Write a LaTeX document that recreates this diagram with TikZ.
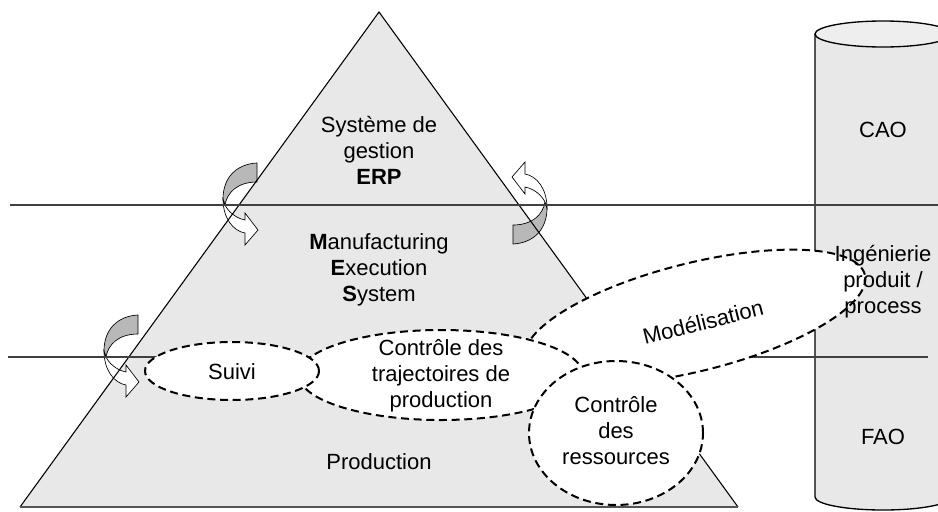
\documentclass[tikz,border=0pt]{standalone}
\usepackage{fontspec}
\setmainfont{Liberation Sans}
\usetikzlibrary{shapes.geometric}
\definecolor{trifill}{HTML}{E8E8E8}
\definecolor{cylfill}{HTML}{E8E8E8}
\definecolor{cyltop}{HTML}{EEEEEE}
\definecolor{arrgray}{HTML}{B8B8B8}
\definecolor{linecol}{HTML}{404040}
\definecolor{basecol}{HTML}{555555}
\begin{document}
\begin{tikzpicture}[x=0.75pt,y=-0.75pt,
  lbl/.style={font=\fontsize{16.5pt}{19.5pt}\selectfont, align=center, inner sep=0pt},
  dsh/.style={ellipse, draw=black, fill=white, line width=1.5pt, dash pattern=on 6pt off 3.5pt, inner sep=0pt},
  hline/.style={draw=linecol, line width=1pt},
  edge/.style={draw=black, line width=0.8pt},
  carrow/.pic={
    \filldraw[fill=arrgray, draw=black, line width=0.5pt] (0,0) .. controls (-20,1) and (-34,14) .. (-34,36) -- (-32,42) .. controls (-30,30) and (-20,19) .. (0,19) -- cycle;
    \filldraw[fill=white, draw=black, line width=0.5pt] (-34,36) .. controls (-34,55) and (-24,68) .. (-12,70) -- (-12,82) -- (1,67) -- (-12,50) -- (-12,57) .. controls (-22,55) and (-29,48) .. (-32,42) -- cycle;
  }
]
\useasboundingbox (0,0) rectangle (938,511);
\clip (0,0) rectangle (938,511);
% cylinder (cut by the right edge)
\filldraw[fill=cylfill, draw=black, line width=1pt] (815,34) -- (815,497) arc[start angle=180, end angle=0, x radius=68, y radius=13] -- (951,34) -- cycle;
\filldraw[fill=cyltop, draw=black, line width=1pt] (883,34) ellipse [x radius=68, y radius=13];
% triangle
\coordinate (apex) at (379,12);
\coordinate (bl) at (20,507);
\coordinate (br) at (738,507);
\fill[trifill] (apex) -- (br) -- (bl) -- cycle;
% curved arrows
\pic at (257,163) {carrow};
\pic at (138,315) {carrow};
\pic[rotate=180] at (513,244) {carrow};
\draw[edge] (bl) -- (apex) -- (br);
\draw[draw=basecol, line width=1.6pt] (bl) -- (br);
% horizontal lines
\coordinate (h1a) at (10,205);
\coordinate (h1b) at (938,205);
\coordinate (h2a) at (8,357);
\coordinate (h2b) at (928,357);
\draw[hline] (h1a) -- (h1b);
\draw[hline] (h2a) -- (h2b);
% dashed ellipses
\node[dsh, rotate=14, minimum width=262.5pt, minimum height=81pt] (model) at (695,317) {};
\node[dsh, minimum width=213pt, minimum height=67.5pt] (traj) at (441,375) {};
\node[dsh, minimum width=130.5pt, minimum height=43.5pt] (suivi) at (232,371) {};
\node[dsh, minimum width=130.5pt, minimum height=108pt] (ress) at (616,433) {};
% texts
\node[lbl] (tsys) at (379,150) {Système de\\gestion\\\textbf{ERP}};
\node[lbl] (tmes) at (379,270) {\textbf{M}anufacturing\\\textbf{E}xecution\\\textbf{S}ystem};
\node[lbl] (tprod) at (379,462) {Production};
\node[lbl] (tsuivi) at (232,372) {Suivi};
\node[lbl] (ttraj) at (441,376) {Contrôle des\\trajectoires de\\production};
\node[lbl] (tress) at (616,431) {Contrôle\\des\\ressources};
\node[lbl, rotate=14] (tmodel) at (703,322) {Modélisation};
\node[lbl] (tcao) at (883,130) {CAO};
\node[lbl] (ting) at (883,282) {Ingénierie\\produit /\\process};
\node[lbl] (tfao) at (883,437) {FAO};
\end{tikzpicture}
\end{document}
